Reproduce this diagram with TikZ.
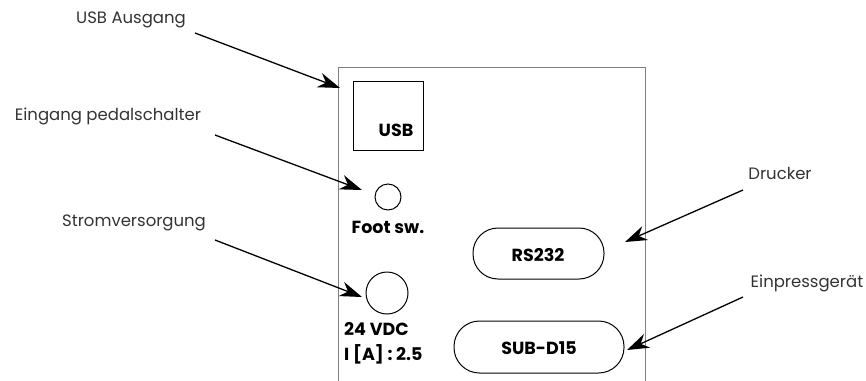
\documentclass[tikz,border=0pt]{standalone}
\usepackage{fontspec}
\setmainfont{Poppins}
\usetikzlibrary{arrows.meta}
\begin{document}
\begin{tikzpicture}[x=1pt,y=-1pt,
  lbl/.style={font=\fontsize{16.5}{19}\selectfont, text=black!80, inner sep=0pt},
  tag/.style={font=\bfseries\fontsize{17.5}{20}\selectfont, inner sep=0pt},
  arr/.style={line width=1.3pt, -{Stealth[length=22pt,width=15pt,inset=7pt]}}]
\useasboundingbox (0,0) rectangle (866,380);
% panel
\draw[gray, line width=1pt] (338,390) -- (338,67) -- (645,67) -- (645,390);
% usb
\node[draw, line width=1pt, minimum width=70pt, minimum height=69pt, inner sep=0pt] (usb) at (388,115.5) {};
\node[tag] (usbt) at (396,130) {USB};
% foot
\node[draw, circle, line width=1pt, minimum size=26pt, inner sep=0pt] (foot) at (388,197) {};
\node[tag] (foott) at (388,227) {Foot sw.};
% power
\node[draw, circle, line width=1pt, minimum size=42pt, inner sep=0pt] (pwr) at (387,293) {};
\node[tag, align=left, anchor=west, font=\bfseries\fontsize{17.5}{25}\selectfont] (pwrt) at (344,343) {24 VDC\\I [A] : 2.5};
% ports
\node[draw, line width=1pt, minimum width=131pt, minimum height=51pt, rounded corners=25pt, inner sep=0pt] (rs) at (538.5,253.5) {};
\node[tag] (rst) at (538,255) {RS232};
\node[draw, line width=1pt, minimum width=170pt, minimum height=52pt, rounded corners=25.5pt, inner sep=0pt] (sub) at (539,347) {};
\node[tag] (subt) at (539,348) {SUB-D15};
% labels
\node[lbl] (l1) at (131,20) {USB Ausgang};
\node[lbl] (l2) at (108,116) {Eingang pedalschalter};
\node[lbl] (l3) at (134,223) {Stromversorgung};
\node[lbl] (l4) at (780,173) {Drucker};
\node[lbl] (l5) at (807,283) {Einpressgerät};
\coordinate (s1) at (195,33);
\coordinate (t1) at (340,88);
\coordinate (s2) at (215,135);
\coordinate (t2) at (362,190);
\coordinate (s3) at (215,240);
\coordinate (t3) at (362,297);
\coordinate (s4) at (743,190);
\coordinate (t4) at (625,242);
\coordinate (s5) at (743,297);
\coordinate (t5) at (627,350);
\draw[arr] (s1) -- (t1);
\draw[arr] (s2) -- (t2);
\draw[arr] (s3) -- (t3);
\draw[arr] (s4) -- (t4);
\draw[arr] (s5) -- (t5);
\end{tikzpicture}
\end{document}
